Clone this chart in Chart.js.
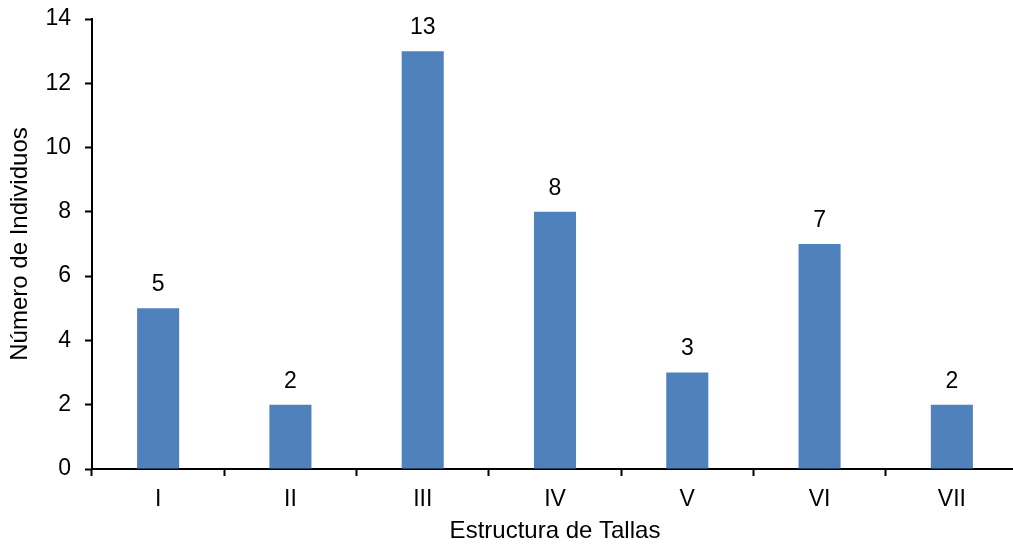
<!DOCTYPE html>
<html>
<head>
<meta charset="utf-8">
<script src="https://cdn.jsdelivr.net/npm/chart.js@4.4.0/dist/chart.umd.min.js"></script>
<style>
    html, body { margin: 0; padding: 0; background: #fff; overflow: hidden; }
    #wrap { width: 1020px; height: 546px; position: relative; }
</style>
</head>
<body>
<div id="wrap"><canvas id="tallasChart"></canvas></div>
<script>
// Datos
const categorias = ['I', 'II', 'III', 'IV', 'V', 'VI', 'VII'];
const individuos = [5, 2, 13, 8, 3, 7, 2];
const yTicks = [0, 2, 4, 6, 8, 10, 12, 14];

const fontFamily = '"Liberation Sans", Arial, sans-serif';

// etiquetas encima de cada barra
const barLabels = {
    id: 'barLabels',
    afterDatasetsDraw(chart) {
        const ctx = chart.ctx;
        const meta = chart.getDatasetMeta(0);
        ctx.save();
        ctx.font = '23px ' + fontFamily;
        ctx.fillStyle = '#000';
        ctx.textAlign = 'center';
        ctx.textBaseline = 'bottom';
        meta.data.forEach((bar, i) => {
            ctx.fillText(String(individuos[i]), bar.x, bar.y - 12);
        });
        ctx.restore();
    }
};

const ctx = document.getElementById('tallasChart').getContext('2d');
new Chart(ctx, {
    type: 'bar',
    data: {
        labels: categorias,
        datasets: [{
            label: 'Número de Individuos',
            data: individuos,
            backgroundColor: '#4F81BD',
            borderWidth: 0,
            categoryPercentage: 1,
            barPercentage: 0.318
        }]
    },
    options: {
        responsive: true,
        maintainAspectRatio: false,
        animation: false,
        layout: {
            padding: { top: 19, right: 2, bottom: 0, left: 0 }
        },
        plugins: {
            legend: { display: false },
            tooltip: { enabled: false }
        },
        scales: {
            y: {
                min: 0,
                max: 14,
                afterBuildTicks: (scale) => {
                    scale.ticks = yTicks.map(v => ({ value: v }));
                },
                afterFit: (scale) => {
                    scale.width = 92;
                    scale.paddingTop = 0;
                    scale.paddingBottom = 0;
                },
                border: { color: '#000', width: 2 },
                grid: {
                    drawOnChartArea: false,
                    drawTicks: true,
                    tickLength: 7,
                    tickWidth: 2,
                    tickColor: '#000'
                },
                ticks: {
                    color: '#000',
                    padding: 14,
                    font: { family: fontFamily, size: 23 }
                },
                title: {
                    display: true,
                    text: 'Número de Individuos',
                    color: '#000',
                    padding: { top: 6, bottom: 0 },
                    font: { family: fontFamily, size: 24 }
                }
            },
            x: {
                afterFit: (scale) => {
                    scale.height = 77;
                    scale.paddingLeft = 0;
                    scale.paddingRight = 0;
                },
                border: { color: '#000', width: 2 },
                grid: {
                    offset: true,
                    drawOnChartArea: false,
                    drawTicks: true,
                    tickLength: 7,
                    tickWidth: 2,
                    tickColor: '#000'
                },
                ticks: {
                    color: '#000',
                    padding: 10,
                    font: { family: fontFamily, size: 23 }
                },
                title: {
                    display: true,
                    text: 'Estructura de Tallas',
                    color: '#000',
                    padding: { top: 2, bottom: 0 },
                    font: { family: fontFamily, size: 24 }
                }
            }
        }
    },
    plugins: [barLabels]
});
</script>
</body>
</html>
